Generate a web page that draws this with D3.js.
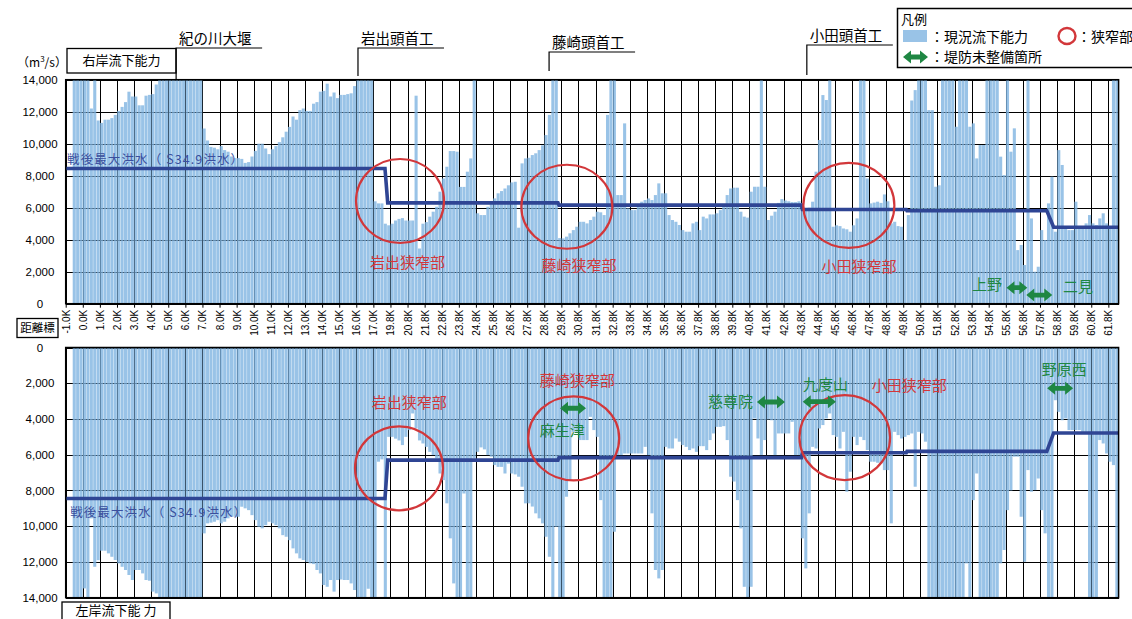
<!DOCTYPE html>
<html>
<head>
<meta charset="utf-8">
<script src="https://cdn.jsdelivr.net/npm/d3@7"></script>
<style>
  body { margin: 0; background: #fff; }
  svg { display: block; font-family: "Liberation Sans", Arial, sans-serif; }
  .jp { font-family: "Noto Sans CJK JP", "Noto Sans", sans-serif; }
</style>
</head>
<body>
<svg id="chart" width="1132" height="619"></svg>
<script>
// Distance markers (one grid column each; every column holds five 0.2 km sections)
const tickLabels = ["-1.0K","0.0K","1.0K","2.0K","3.0K","4.0K","5.0K","6.0K","7.0K","8.0K","9.0K",
  "10.0K","11.0K","12.0K","13.0K","14.0K","15.0K","16.0K","17.0K","19.8K","20.8K","21.8K","22.8K",
  "23.8K","24.8K","25.8K","26.8K","27.8K","28.8K","29.8K","30.8K","31.8K","32.8K","33.8K","34.8K",
  "35.8K","36.8K","37.8K","38.8K","39.8K","40.8K","41.8K","42.8K","43.8K","44.8K","45.8K","46.8K",
  "47.8K","48.8K","49.8K","50.8K","51.8K","52.8K","53.8K","54.8K","55.8K","56.8K","57.8K","58.8K",
  "59.8K","60.8K","61.8K"];

// Current flow capacity, right bank (m3/s), per 0.2 km section
const rightBank = [
  0,0,14000,14000,14000,14000,14000,12200,14000,11450,
  11300,11500,11500,11600,11800,12050,12300,12600,13250,12950,
  12950,12400,12400,13000,13050,13100,13700,14000,14000,14000,
  14000,14000,14000,14000,14000,14000,14000,14000,14000,14000,
  10950,10200,9800,9750,9650,9850,9600,9500,9200,9100,
  9100,9050,8800,8850,9200,9550,10000,10000,9700,9350,
  9650,9850,10100,10400,10750,11050,11700,11500,12100,12200,
  12050,12050,12500,12600,13250,13300,13750,12950,13200,12850,
  13050,13050,13100,13150,13600,14000,14000,14000,14000,14000,
  6400,6270,6270,5000,4900,5000,5200,5300,5350,5200,
  5200,5200,13000,3450,5000,5100,5440,5750,6060,7000,
  7830,8560,9540,9540,9500,7300,7300,8250,9080,14000,
  5650,5540,5540,6060,6375,6580,6900,7040,7200,7400,
  7580,7620,4750,8770,9080,9120,9290,9400,9600,9900,
  10540,11800,14000,14000,4100,4080,4190,4400,4600,4810,
  5120,5120,5020,5230,5440,5750,5710,5540,11800,14000,
  14000,6790,6790,11270,5960,5850,5850,6060,6375,6480,
  6580,6480,6790,7520,6900,6900,5540,5230,5120,4920,
  4600,4500,4500,5020,5120,4600,5440,5330,5580,5580,
  5650,5850,6060,6790,7200,7250,7250,5750,5440,5380,
  7000,7310,7310,14000,7310,5230,5500,5750,6300,6540,
  6450,6400,6350,6350,6400,6300,5850,6000,6375,8250,
  10230,13040,12730,14000,4810,4900,4850,4700,4650,4500,
  4900,5330,14000,14000,7830,6270,6320,6375,6300,6830,
  6400,5020,5120,4850,4810,3980,5540,12700,13350,14000,
  14000,14000,12100,12100,7310,7400,14000,14000,14000,14000,
  11060,14000,14000,14000,11060,11270,9080,9920,9920,14000,
  14000,14000,14000,9190,8040,14000,9500,10960,3350,3670,
  2420,14000,5330,2000,2310,4600,3980,6270,7940,4500,
  9600,8670,4810,4600,4600,6375,4700,4810,5020,5540,
  5020,4920,5330,5650,5020,4810,14000,14000
];

// Current flow capacity, left bank (m3/s), per 0.2 km section
const leftBank = [
  0,0,14000,14000,14000,13480,14000,9560,12270,11900,
  11370,11370,11520,11710,11890,12080,12270,12450,12730,13010,
  12450,12450,12640,13010,13050,13660,13760,14000,14000,14000,
  14000,14000,14000,14000,14000,14000,14000,14000,14000,14000,
  10400,9840,9800,9750,9660,9840,9750,9560,9470,9470,
  9470,8910,9000,9100,9380,9660,10030,10120,9940,9750,
  9840,9940,10120,10500,10590,10780,11240,11520,11800,11890,
  11990,12080,12120,12450,12640,13290,13390,13010,13660,13010,
  12980,13010,13010,13200,13570,14000,14000,14000,13500,14000,
  14000,6390,6260,14000,5000,5000,5100,5200,5460,5000,
  4620,3690,4530,5200,5370,5560,5840,6020,6200,7050,
  7420,8720,10680,13200,14000,14000,8170,14000,14000,6200,
  5840,5590,5700,6020,6110,6580,6680,6680,7050,6500,
  7050,7100,7230,7790,8720,8720,8900,9280,9560,9840,
  10590,11710,14000,10030,14000,14000,8350,7420,4720,4720,
  5180,5180,5180,3880,4620,5000,8540,14000,14000,14000,
  10310,6020,6020,5930,5930,5930,5930,5930,5930,5560,
  6020,9280,12450,12920,12450,5560,5650,5650,5090,5270,
  5460,5560,5740,5650,5840,5520,5520,5740,5180,4810,
  4440,4440,4400,5180,7230,7500,8540,10120,13390,14000,
  13390,3970,5090,6020,5180,4030,4070,6020,4810,4810,
  4810,4810,4160,6020,6020,10680,12360,9280,5560,5650,
  4530,4340,3970,3690,4900,5000,5650,4720,8070,6950,
  5000,5460,5000,5180,5740,6390,6390,6450,6490,6860,
  6860,9840,4720,4900,5090,5000,4900,4810,7790,4720,
  4810,5270,14000,14000,14000,14000,14000,14000,14000,14000,
  14000,14000,14000,12080,14000,8540,7050,14000,14000,14000,
  14000,14000,14000,12080,11330,9100,8000,6110,6110,9470,
  11990,6860,8070,7980,7330,9100,10400,14000,14000,2950,
  3600,4070,3970,4620,4620,4620,4620,4720,4720,14000,
  14000,14000,5180,5370,5930,6390,6580,14000
];

// Post-war maximum flood (S34.9), step line: section positions and discharge
const floodPos = [0, 93.4, 94.2, 144.0, 144.3, 215.2, 215.5, 245.9, 246.1, 287.0, 289.0, 308];
const floodQ   = [8450, 8450, 6300, 6300, 6160, 6160, 5890, 5890, 5810, 5810, 4780, 4780];

// Narrow sections (circle centre in section units / discharge, radii in px)
const narrowsTop = [
  {name: "岩出狭窄部", pos: 97.8, q: 6420, rx: 44, ry: 42, lpos: 89.0, lq: 2230},
  {name: "藤崎狭窄部", pos: 146.6, q: 6060, rx: 45.5, ry: 42, lpos: 139.2, lq: 2075},
  {name: "小田狭窄部", pos: 229.1, q: 6140, rx: 45.5, ry: 42.5, lpos: 221.1, lq: 2010}
];
const narrowsBottom = [
  {name: "岩出狭窄部", pos: 97.5, q: 6760, rx: 44, ry: 42, lpos: 89.5, lq: 3385},
  {name: "藤崎狭窄部", pos: 148.6, q: 5080, rx: 45.5, ry: 42, lpos: 138.7, lq: 2155},
  {name: "小田狭窄部", pos: 227.9, q: 5040, rx: 45.3, ry: 42.5, lpos: 235.8, lq: 2435}
];

// Unfinished embankment stretches
const leveeTop = [
  {label: "上野", lpos: 265.1, lq: 850, from: 275.2, to: 281.3, q: 1000},
  {label: "二見", lpos: 291.7, lq: 760, from: 281.0, to: 288.6, q: 540}
];
const leveeBottom = [
  {label: "麻生津", lpos: 138.7, lq: 4925, from: 144.6, to: 152.2, q: 3400},
  {label: "慈尊院", lpos: 187.9, lq: 3330, from: 202.2, to: 210.4, q: 3050},
  {label: "九度山", lpos: 215.7, lq: 2405, from: 215.6, to: 225.3, q: 3030},
  {label: "野原西", lpos: 285.5, lq: 1565, from: 287.1, to: 294.7, q: 2285}
];

// Weirs / head works along the river
const weirs = [
  {name: "紀の川大堰", pos: 32.3, lineY: 48, bottom: 79.7},
  {name: "岩出頭首工", pos: 85.5, lineY: 48, bottom: 76},
  {name: "藤崎頭首工", pos: 141.4, lineY: 52, bottom: 71},
  {name: "小田頭首工", pos: 216.8, lineY: 45, bottom: 75}
];

const yTicks = [0, 2000, 4000, 6000, 8000, 10000, 12000, 14000];

// ---------------------------------------------------------------------
const svg = d3.select("#chart");
const W = 1132, H = 619;
const left = 65.7, right = 1118.6;
const nSec = rightBank.length;

const barKeys = d3.range(nSec).map(i => tickLabels[Math.floor(i / 5)] + "-" + (i % 5));
const x = d3.scaleBand().domain(barKeys).range([left, right]).paddingInner(0.1).paddingOuter(0.05);
const xs = d3.scaleLinear().domain([0, nSec]).range([left, right]);

const yTop = d3.scaleLinear().domain([0, 14000]).range([303.7, 79.7]);
const yBot = d3.scaleLinear().domain([0, 14000]).range([347.5, 597.7]);

const BAR = "rgb(128,180,225)";
const NAVY = "#2f4594";
const RED = "#d2373a";
const GREEN = "#1f8743";

svg.append("rect").attr("width", W).attr("height", H).attr("fill", "#fff");

function arrowPath(x0, x1, yc) {
  const hl = 8, hh = 6.5, sh = 2.4;
  return `M${x0},${yc} L${x0 + hl},${yc - hh} L${x0 + hl},${yc - sh} L${x1 - hl},${yc - sh} L${x1 - hl},${yc - hh}`
    + ` L${x1},${yc} L${x1 - hl},${yc + hh} L${x1 - hl},${yc + sh} L${x0 + hl},${yc + sh} L${x0 + hl},${yc + hh} Z`;
}

function drawPanel(y, data, narrows, levees, floodText) {
  const g = svg.append("g");
  const [y0, y1] = [y(0), y(14000)];
  const top = Math.min(y0, y1), bot = Math.max(y0, y1);

  // grid
  const grid = g.append("g").attr("shape-rendering", "crispEdges");
  grid.selectAll("line.h").data(yTicks).join("line")
    .attr("x1", left).attr("x2", right)
    .attr("y1", d => Math.round(y(d)) + 0.5).attr("y2", d => Math.round(y(d)) + 0.5)
    .attr("stroke", "#000").attr("stroke-width", 1);
  grid.selectAll("line.v").data(d3.range(0, nSec, 5)).join("line")
    .attr("x1", d => Math.round(xs(d)) + 0.5).attr("x2", d => Math.round(xs(d)) + 0.5)
    .attr("y1", top).attr("y2", bot)
    .attr("stroke", "#000").attr("stroke-width", 1);

  // bars
  g.append("g").selectAll("rect").data(data.map((v, i) => ({k: barKeys[i], v})).filter(d => d.v > 0))
    .join("rect")
    .attr("x", d => x(d.k)).attr("width", x.bandwidth())
    .attr("y", d => Math.min(y(0), y(d.v)))
    .attr("height", d => Math.abs(y(d.v) - y(0)))
    .attr("fill", BAR).attr("fill-opacity", 0.8);

  // flood step line
  const line = d3.line().x(d => xs(d[0])).y(d => y(d[1]));
  g.append("path").datum(floodPos.map((p, i) => [p, floodQ[i]]))
    .attr("d", line).attr("fill", "none").attr("stroke", NAVY).attr("stroke-width", 3.6)
    .attr("stroke-linejoin", "miter");

  // frame
  g.append("rect").attr("x", left).attr("y", top).attr("width", right - left).attr("height", bot - top)
    .attr("fill", "none").attr("stroke", "#000").attr("stroke-width", 1.5);

  // y axis labels
  g.append("g").selectAll("text").data(yTicks).join("text")
    .attr("x", 40).attr("y", d => y(d)).attr("dy", "0.36em")
    .attr("text-anchor", "middle").attr("font-size", 11.5).attr("fill", "#000")
    .text(d3.format(","));

  // flood label
  g.append("text").attr("class", "jp")
    .attr("x", xs(floodText.pos)).attr("y", y(floodText.q))
    .attr("font-size", 12.5).attr("letter-spacing", 1.1).attr("fill", "#3a4f9e")
    .text("戦後最大洪水（ S34.9洪水）");

  // narrow sections
  g.append("g").selectAll("ellipse").data(narrows).join("ellipse")
    .attr("cx", d => xs(d.pos)).attr("cy", d => y(d.q)).attr("rx", d => d.rx).attr("ry", d => d.ry)
    .attr("fill", "none").attr("stroke", RED).attr("stroke-width", 2.2);
  g.append("g").selectAll("text").data(narrows).join("text").attr("class", "jp")
    .attr("x", d => xs(d.lpos)).attr("y", d => y(d.lq))
    .attr("font-size", 15).attr("fill", RED).text(d => d.name);

  // unfinished embankments
  g.append("g").selectAll("text").data(levees).join("text").attr("class", "jp")
    .attr("x", d => xs(d.lpos)).attr("y", d => y(d.lq))
    .attr("font-size", 15).attr("fill", GREEN).text(d => d.label);
  g.append("g").selectAll("path").data(levees).join("path")
    .attr("d", d => arrowPath(xs(d.from), xs(d.to), y(d.q))).attr("fill", GREEN);
}

drawPanel(yTop, rightBank, narrowsTop, leveeTop, {pos: 0.4, q: 8730});
drawPanel(yBot, leftBank, narrowsBottom, leveeBottom, {pos: 1.3, q: 9485});

// distance axis under the upper panel
const xAxis = d3.axisBottom(xs).tickValues(d3.range(0, nSec, 5))
  .tickFormat((d, i) => tickLabels[i]).tickSize(4).tickSizeOuter(0);
const ax = svg.append("g").attr("transform", `translate(0,${yTop(0)})`).call(xAxis);
ax.select(".domain").remove();
ax.selectAll(".tick line").attr("stroke", "#000");
ax.selectAll(".tick text")
  .attr("transform", "rotate(-90)").attr("text-anchor", "end")
  .attr("x", -6).attr("y", 0).attr("dy", "0.35em")
  .attr("font-size", 10).attr("font-family", "Liberation Sans, Arial, sans-serif").attr("fill", "#000");

// units and panel captions
const u = svg.append("text").attr("class", "jp").attr("x", 17).attr("y", 67).attr("font-size", 12);
u.append("tspan").text("（m");
u.append("tspan").attr("dy", -5).attr("font-size", 8).text("3");
u.append("tspan").attr("dy", 5).text("/s）");

function boxLabel(x0, y0, w, h, txt, fs, ty) {
  svg.append("rect").attr("x", x0).attr("y", y0).attr("width", w).attr("height", h)
    .attr("fill", "#fff").attr("stroke", "#000").attr("stroke-width", 1.3);
  svg.append("text").attr("class", "jp").attr("x", x0 + w / 2).attr("y", ty).attr("dy", "0.36em")
    .attr("text-anchor", "middle").attr("font-size", fs).text(txt);
}
boxLabel(67, 48.5, 109, 24.5, "右岸流下能力", 13, 60.75);
boxLabel(62, 602, 108, 26, "左岸流下能 力", 13, 610.5);
boxLabel(17, 318.5, 41, 19, "距離標", 11.5, 328);

// weirs
weirs.forEach(w => {
  const wx = xs(w.pos);
  svg.append("path")
    .attr("d", `M${wx},${w.bottom} L${wx},${w.lineY} L${wx + 86},${w.lineY}`)
    .attr("fill", "none").attr("stroke", "#000").attr("stroke-width", 1.2);
  svg.append("text").attr("class", "jp").attr("x", wx + 3).attr("y", w.lineY - 4)
    .attr("font-size", 14.5).text(w.name);
});

// legend
const lg = svg.append("g");
lg.append("rect").attr("x", 897.5).attr("y", 8.5).attr("width", 250).attr("height", 59)
  .attr("fill", "#fff").attr("stroke", "#000").attr("stroke-width", 1.5);
lg.append("text").attr("class", "jp").attr("x", 901).attr("y", 24).attr("font-size", 13).text("凡例");
lg.append("rect").attr("x", 903).attr("y", 30).attr("width", 24).attr("height", 12)
  .attr("fill", BAR).attr("fill-opacity", 0.8);
lg.append("text").attr("class", "jp").attr("x", 930).attr("y", 41.5).attr("font-size", 14).text("：現況流下能力");
lg.append("ellipse").attr("cx", 1067).attr("cy", 36).attr("rx", 8.5).attr("ry", 8)
  .attr("fill", "none").attr("stroke", RED).attr("stroke-width", 2.4);
lg.append("text").attr("class", "jp").attr("x", 1077).attr("y", 41.5).attr("font-size", 14).text("：狭窄部");
lg.append("path").attr("d", arrowPath(903, 928, 57)).attr("fill", GREEN);
lg.append("text").attr("class", "jp").attr("x", 930).attr("y", 62).attr("font-size", 14).text("：堤防未整備箇所");
</script>
</body>
</html>
